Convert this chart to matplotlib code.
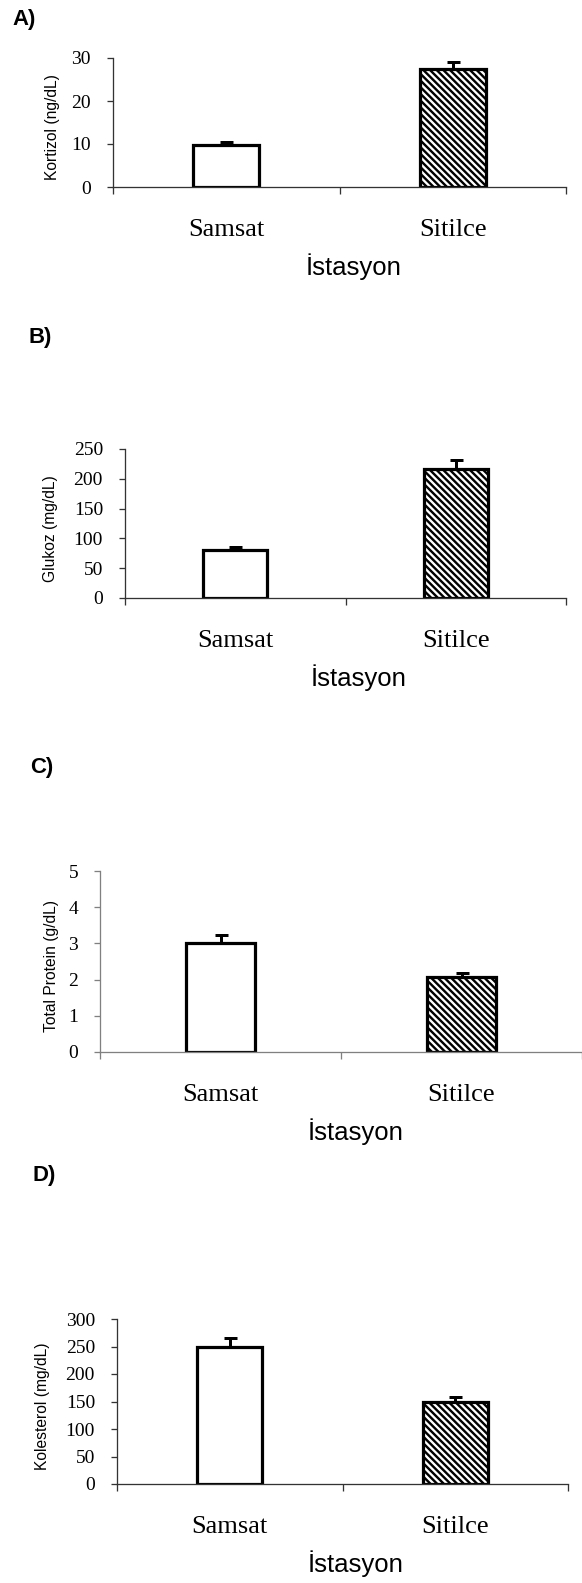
import matplotlib.pyplot as plt

# data
stations = ["Samsat", "Sitilce"]
panel_letters = ["A)", "B)", "C)", "D)"]
y_titles = ["Kortizol (ng/dL)", "Glukoz (mg/dL)", "Total Protein (g/dL)", "Kolesterol (mg/dL)"]
kortizol = [9.8, 27.5]
kortizol_err = [0.7, 1.6]
glukoz = [80, 217]
glukoz_err = [5, 14]
protein = [3.02, 2.07]
protein_err = [0.2, 0.12]
kolesterol = [250, 149]
kolesterol_err = [15, 10]
y_max = [30, 250, 5, 300]
y_step = [10, 50, 1, 50]

values = [kortizol, glukoz, protein, kolesterol]
errors = [kortizol_err, glukoz_err, protein_err, kolesterol_err]

DPI = 100
W, H = 582, 1583


def px(v):
    # pixel size -> points
    return v * 72 / DPI


plt.rcParams['hatch.linewidth'] = px(2.4)
plt.rcParams['hatch.color'] = 'black'

fig = plt.figure(figsize=(W / DPI, H / DPI), dpi=DPI)

# layout in pixels: left, right, top, bottom of each plot area
boxes = [(113, 566, 58, 187), (125, 566, 449, 598), (100, 582, 871, 1052), (117, 568, 1319, 1484)]
letter_pos = [(12, 20), (28, 338), (30, 767), (33, 1176)]
ylabel_x = [52, 51, 52, 43]
spine_col = ['#333333', '#333333', '#808080', '#333333']

serif = 'Liberation Serif'
sans = 'Liberation Sans'

for i in range(4):
    l, r, t, b = boxes[i]
    ax = fig.add_axes([l / W, 1 - b / H, (r - l) / W, (b - t) / H])
    xs = [0.5, 1.5]
    ax.bar(xs[0], values[i][0], width=0.29, color='white', edgecolor='black',
           linewidth=px(3.2), zorder=2)
    ax.bar(xs[1], values[i][1], width=0.29, color='white', edgecolor='black',
           linewidth=px(3.2), hatch='\\' * 5, zorder=2)
    ax.errorbar(xs, values[i], yerr=[[0, 0], errors[i]], fmt='none', ecolor='black',
                elinewidth=px(3), capsize=px(6.5), capthick=px(3), zorder=3)

    ax.set_xlim(0, 2)
    ax.set_ylim(0, y_max[i])
    ax.set_yticks([k * y_step[i] for k in range(int(round(y_max[i] / y_step[i])) + 1)])
    ax.set_xticks([0, 1, 2])
    ax.set_xticklabels([])
    for s in ['top', 'right']:
        ax.spines[s].set_visible(False)
    for s in ['left', 'bottom']:
        ax.spines[s].set_color(spine_col[i])
        ax.spines[s].set_linewidth(px(1.3))
    ax.tick_params(axis='y', direction='out', length=px(6), width=px(1.3),
                   color=spine_col[i], pad=px(16))
    ax.tick_params(axis='x', direction='out', length=px(7), width=px(1.3), color=spine_col[i])
    for lab in ax.get_yticklabels():
        lab.set_fontfamily(serif)
        lab.set_fontsize(px(19.5))

    for x, name in zip(xs, stations):
        ax.annotate(name, xy=(x, 0), xycoords=('data', 'axes fraction'), xytext=(0, -px(43)),
                    textcoords='offset points', ha='center', va='center',
                    fontfamily=serif, fontsize=px(26.4))
    ax.annotate("İstasyon", xy=(0.53, 0), xycoords='axes fraction', xytext=(0, -px(80)),
                textcoords='offset points', ha='center', va='center',
                fontfamily=sans, fontsize=px(25.7))

    fig.text(ylabel_x[i] / W, 1 - ((t + b) / 2 + 5) / H, y_titles[i], rotation=90,
             ha='center', va='center', fontfamily=sans, fontsize=px(15.6))
    lx, ly = letter_pos[i]
    fig.text(lx / W, 1 - ly / H, panel_letters[i], ha='left', va='center',
             fontfamily=sans, fontweight='bold', fontsize=px(22.2))

fig.savefig("out.png", dpi=DPI)
